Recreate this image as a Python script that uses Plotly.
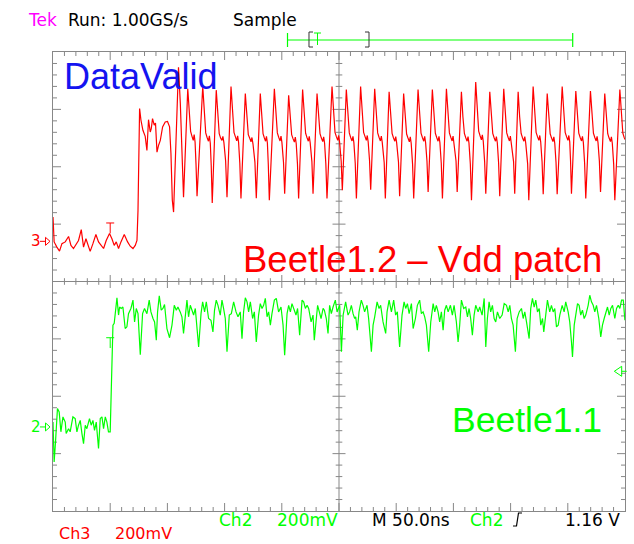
import plotly.graph_objects as go

# ---------------- acquisition settings ----------------
ns_per_div = 50          # M 50.0ns
mv_per_div = 200         # Ch2 / Ch3 200mV
n_hdiv, n_vdiv = 10, 8
ch3_position_div = 0.70  # ground marker "3"
ch2_position_div = -2.535  # ground marker "2"
trigger_time_ns = 50
trigger_level_mv = 194   # Ch2 trigger level above its ground marker

# ---------------- Ch3 (DataValid, Beetle1.2 - Vdd patch) ----------------
ch3_t_ns = [
    0.0, 1.0, 3.4, 5.7, 7.8, 10.7, 13.6, 15.7, 17.9, 20.3, 22.3, 24.7,
    26.7, 28.8, 30.5, 32.5, 34.9, 37.5, 39.8, 41.9, 44.2, 46.5, 49.4, 51.5,
    53.5, 55.3, 57.3, 59.4, 62.3, 65.2, 67.5, 69.9, 71.9, 73.4, 74.3, 75.7,
    76.9, 78.6, 80.6, 82.1, 83.5, 85.0, 85.9, 87.0, 88.5, 89.6,
    90.9, 92.3, 93.8, 95.8, 98.1, 100.1, 101.9, 103.1, 104.3, 105.4,
    107.8, 109.7, 111.3, 114.1,
    117.8, 119.1, 120.3, 121.5, 122.6, 123.4, 124.2, 125.0, 125.9,
    130.9, 132.2, 133.5, 134.7, 135.9, 136.7, 137.5, 138.3, 139.2,
    142.7, 144.0, 145.3, 146.5, 147.7, 148.5, 149.4, 150.9, 152.1,
    155.6, 156.9, 158.2, 159.4, 160.6, 161.4, 162.2, 163.3, 164.3,
    168.1, 169.4, 170.7, 171.9, 173.1, 173.9, 174.8, 176.5, 177.7,
    181.2, 182.4, 183.6, 184.7, 185.8, 186.6, 187.4, 188.2, 189.1,
    193.5, 194.8, 196.1, 197.3, 198.5, 199.3, 200.1, 201.5, 202.5,
    206.0, 207.3, 208.6, 209.8, 211.0, 211.8, 212.6, 213.7, 214.7,
    218.2, 219.5, 220.8, 222.0, 223.2, 224.0, 224.8, 226.3, 227.3,
    230.8, 232.1, 233.4, 234.6, 235.8, 236.6, 237.4, 238.5, 239.5,
    243.9, 245.2, 246.5, 247.7, 248.9, 249.7, 250.5, 251.9, 252.9,
    256.4, 257.7, 259.0, 260.2, 261.4, 262.2, 263.0, 264.2, 265.2,
    268.9, 270.2, 271.5, 272.7, 273.9, 274.7, 275.5, 276.7, 277.7,
    281.2, 282.5, 283.8, 285.0, 286.2, 287.0, 287.8, 289.5, 290.5,
    293.8, 295.1, 296.4, 297.6, 298.8, 299.6, 300.4, 302.0, 303.0,
    306.5, 307.8, 309.1, 310.3, 311.5, 312.3, 313.1, 314.3, 315.3,
    319.1, 320.4, 321.7, 322.9, 324.1, 324.9, 325.7, 326.9, 327.9,
    331.6, 332.9, 334.2, 335.4, 336.6, 337.4, 338.2, 339.4, 340.4,
    343.9, 345.2, 346.5, 347.7, 348.9, 349.7, 350.5, 352.3, 353.3,
    357.0, 358.3, 359.6, 360.8, 362.0, 362.8, 363.6, 364.8, 365.8,
    369.5, 370.8, 372.1, 373.3, 374.5, 375.3, 376.1, 377.3, 378.3,
    381.8, 383.1, 384.4, 385.6, 386.8, 387.6, 388.4, 389.5, 390.5,
    394.0, 395.3, 396.6, 397.8, 399.0, 399.8, 400.6, 402.6, 403.6,
    406.6, 407.9, 409.2, 410.4, 411.6, 412.4, 413.2, 414.9, 415.9,
    419.7, 421.0, 422.3, 423.5, 424.7, 425.5, 426.3, 427.5, 428.5,
    432.0, 433.3, 434.6, 435.8, 437.0, 437.8, 438.6, 439.7, 440.7,
    445.1, 446.4, 447.7, 448.9, 450.1, 450.9, 451.7, 452.4, 453.2,
    457.0, 458.3, 459.6, 460.8, 462.0, 462.8, 463.6, 464.7, 465.7,
    469.8, 471.1, 472.4, 473.6, 474.8, 475.6, 476.4, 477.6, 478.6,
    482.3, 483.6, 484.9, 486.1, 487.3, 488.1, 488.9, 490.1, 491.1,
    495.5, 496.8, 498.1, 499.3, 500.0,
]
ch3_mv = [
    85, -2, -20, -34, -8, -2, 17, -14, -25, -8, 3, 41,
    -20, 9, -14, -35, -8, 24, -2, -14, -25, 3, 27, 9,
    -14, -2, -25, -2, 24, -2, -17, -25, -14, 3, 108, 463,
    422, 387, 366, 317, 424, 381, 393, 428, 405, 412,
    311, 335, 352, 399, 416, 418, 399, 306, 143, 102,
    399, 607, 480, 154,
    532, 445, 383, 366, 352, 372, 346, 270, 157,
    540, 440, 378, 362, 349, 368, 342, 265, 134,
    527, 436, 375, 360, 352, 366, 344, 280, 154,
    540, 442, 380, 365, 350, 368, 346, 272, 149,
    515, 430, 372, 360, 347, 362, 340, 276, 150,
    515, 432, 375, 361, 349, 366, 343, 268, 143,
    532, 440, 378, 363, 350, 367, 345, 275, 166,
    509, 428, 372, 358, 346, 363, 341, 270, 149,
    529, 438, 377, 362, 349, 366, 344, 278, 166,
    515, 432, 375, 360, 348, 364, 342, 270, 149,
    540, 442, 380, 365, 352, 369, 347, 280, 178,
    529, 438, 378, 362, 350, 366, 344, 272, 149,
    540, 442, 380, 366, 352, 369, 347, 282, 180,
    532, 440, 378, 363, 350, 367, 345, 275, 149,
    521, 434, 376, 361, 349, 365, 343, 276, 157,
    515, 432, 374, 360, 347, 364, 342, 270, 149,
    529, 438, 377, 362, 349, 366, 344, 280, 172,
    529, 438, 377, 362, 349, 366, 344, 272, 149,
    532, 440, 378, 363, 350, 367, 345, 280, 172,
    521, 434, 376, 361, 349, 365, 343, 270, 143,
    555, 448, 384, 368, 354, 371, 349, 278, 166,
    521, 434, 376, 361, 349, 365, 343, 274, 157,
    532, 440, 378, 363, 350, 367, 345, 278, 166,
    521, 434, 376, 361, 349, 365, 343, 270, 143,
    540, 442, 380, 365, 352, 369, 347, 278, 164,
    515, 432, 375, 360, 348, 364, 342, 276, 164,
    540, 442, 380, 365, 352, 369, 347, 280, 166,
    524, 436, 377, 362, 350, 366, 344, 272, 149,
    524, 436, 377, 362, 350, 366, 344, 280, 172,
    515, 432, 375, 360, 348, 364, 342, 270, 143,
    529, 438, 377, 362, 355,
]

# ---------------- Ch2 (Beetle1.1) ----------------
ch2_t_ns = [
    0.0, 1.0, 2.2, 3.9, 5.4, 6.9, 8.7, 10.7, 11.5, 13.6,
    15.0, 17.4, 19.4, 20.9, 22.3, 23.8, 25.3, 26.7, 28.2, 29.6,
    31.9, 33.4, 34.9, 36.3, 37.8, 39.8, 41.3, 42.8, 44.2, 45.7,
    47.1, 48.5, 50.0, 50.9, 51.8, 52.4, 53.5, 54.4, 55.9, 57.3,
    58.2, 59.6, 61.1, 63.1, 64.6, 66.0, 68.1, 69.9, 71.3, 72.8,
    74.3, 76.3, 78.3, 80.0, 82.1, 84.1, 85.6, 87.4, 88.8, 90.3,
    91.4, 92.9, 94.6, 96.1, 97.5, 99.6, 101.9, 104.0, 106.0, 107.8,
    109.2, 111.2, 112.7, 114.1, 115.6, 117.1, 118.5, 120.0, 121.5, 122.9,
    124.4, 125.9, 127.3, 129.4, 130.8, 132.5, 134.0, 136.0, 138.1, 139.8,
    141.2, 142.7, 144.2, 146.2, 147.7, 149.1, 150.6, 152.1, 154.1, 155.9,
    157.9, 160.0, 161.7, 163.7, 165.2, 166.6, 168.1, 169.6, 171.0, 172.5,
    174.5, 176.0, 177.7, 179.7, 181.2, 182.7, 184.1, 185.6, 187.1, 188.5,
    190.0, 191.4, 193.5, 195.2, 197.2, 199.3, 201.1, 202.5, 204.6, 206.0,
    207.5, 208.9, 211.0, 212.4, 213.8, 215.6, 217.7, 219.1, 220.6, 222.1,
    223.5, 225.6, 227.3, 228.4, 229.9, 231.3, 232.8, 234.3, 236.1, 237.2,
    238.9, 240.4, 241.8, 243.3, 244.8, 246.8, 248.3, 249.7, 250.6, 252.1,
    253.6, 255.8, 257.9, 259.3, 260.8, 262.3, 263.7, 264.6, 266.0, 267.5,
    269.5, 271.0, 272.4, 274.5, 275.9, 278.3, 279.8, 281.2, 283.3, 285.0,
    286.4, 288.5, 290.8, 292.0, 293.8, 295.8, 297.8, 299.5, 301.0, 303.0,
    305.1, 306.9, 308.3, 309.8, 311.3, 313.3, 314.8, 316.8, 318.5, 320.5,
    322.0, 323.5, 324.9, 326.4, 328.4, 330.2, 332.3, 333.7, 335.1, 336.6,
    338.0, 339.5, 341.0, 342.4, 343.9, 345.4, 347.4, 349.1, 350.6, 352.6,
    354.1, 355.5, 357.0, 359.0, 360.8, 362.3, 363.7, 365.1, 366.6, 368.1,
    369.5, 371.6, 373.0, 375.1, 376.9, 378.3, 379.7, 381.2, 382.6, 384.1,
    385.6, 387.0, 388.5, 390.5, 392.6, 394.4, 396.4, 397.9, 399.3, 400.7,
    402.2, 404.2, 405.7, 407.5, 409.5, 411.0, 412.4, 413.9, 416.2, 417.6,
    419.1, 420.6, 422.0, 423.5, 425.0, 426.4, 427.9, 429.0, 430.7, 432.2,
    434.2, 435.7, 437.2, 438.6, 440.1, 441.6, 443.0, 445.1, 446.8, 448.2,
    450.3, 451.7, 453.2, 454.1, 455.6, 457.0, 458.5, 459.9, 461.3, 462.8,
    464.3, 465.7, 467.8, 469.2, 470.7, 472.2, 473.6, 475.1, 477.1, 478.8,
    480.3, 481.8, 483.2, 484.7, 486.2, 487.6, 489.1, 491.1, 492.6, 494.1,
    495.5, 497.0, 498.5, 499.9,
]
ch2_mv = [
    17, -122, -52, 64, 52, -17, 35, 17, -23, -6,
    -17, 35, 29, -17, 6, 23, -23, -58, 6, -6,
    29, 6, 23, -12, 17, -75, 29, 35, -6, 35,
    17, -17, -17, 111, 320, 355, 361, 395, 450, 390,
    418, 413, 418, 343, 349, 395, 413, 442, 366, 413,
    395, 252, 395, 413, 395, 442, 401, 378, 366, 302,
    401, 457, 407, 413, 427, 343, 311, 355, 424, 407,
    418, 401, 384, 326, 378, 442, 384, 424, 407, 390,
    413, 355, 279, 395, 436, 401, 436, 378, 372, 331,
    407, 442, 424, 390, 442, 413, 378, 262, 390, 395,
    436, 401, 384, 401, 308, 401, 450, 436, 401, 436,
    378, 401, 296, 390, 430, 413, 424, 448, 384, 401,
    355, 395, 442, 448, 401, 418, 355, 250, 395, 424,
    401, 430, 401, 390, 413, 320, 442, 436, 413, 424,
    413, 366, 390, 302, 366, 424, 401, 378, 413, 407,
    378, 326, 424, 395, 418, 442, 401, 413, 424, 262,
    390, 436, 390, 401, 424, 395, 378, 384, 337, 401,
    442, 424, 401, 424, 378, 262, 355, 384, 436, 413,
    424, 366, 326, 401, 442, 401, 442, 390, 401, 279,
    390, 436, 413, 430, 395, 430, 343, 378, 424, 442,
    395, 401, 384, 355, 262, 366, 430, 401, 424, 401,
    366, 401, 337, 407, 424, 401, 424, 390, 424, 366,
    296, 355, 442, 413, 418, 384, 413, 378, 320, 390,
    424, 401, 418, 390, 448, 279, 378, 436, 401, 424,
    378, 366, 401, 378, 390, 430, 424, 401, 424, 378,
    355, 262, 378, 401, 413, 378, 401, 366, 308, 413,
    448, 418, 442, 401, 413, 355, 378, 331, 401, 442,
    401, 424, 401, 413, 349, 355, 390, 424, 401, 436,
    401, 366, 296, 244, 355, 401, 430, 424, 390, 407,
    378, 390, 424, 459, 436, 424, 401, 424, 378, 314,
    355, 378, 401, 418, 390, 413, 424, 378, 413, 424,
    413, 442, 442, 372,
]

# ---------------- colours / fonts ----------------
RED, GREEN, BLUE, MAGENTA = "#ff0000", "#00ff00", "#1414f0", "#ff00ff"
GRID = "#878787"
SCOPE_FONT = "DejaVu Sans"
LABEL_FONT = "Liberation Sans"

W, H = 634, 544
ML, MR, MT, MB = 53, 9, 52, 33
PW, PH = W - ML - MR, H - MT - MB
t_span = n_hdiv * ns_per_div


def paper_x(px):
    return (px - ML) / PW


def paper_y(py):
    return (H - MB - py) / PH


def div_to_py(d):
    return MT + PH * (n_vdiv / 2 - d) / n_vdiv


def path(points):
    return "M" + " L".join(f"{paper_x(x):.5f},{paper_y(y):.5f}" for x, y in points)


fig = go.Figure()

# ---- graticule: centre cross and tick marks ----
gx, gy = [], []


def seg(x0, y0, x1, y1):
    gx.extend([x0, x1, None])
    gy.extend([y0, y1, None])


px_per_ns = PW / t_span
px_per_div = PH / n_vdiv
minor_ns = ns_per_div / 5
half = n_vdiv / 2
seg(t_span / 2, -half, t_span / 2, half)
seg(0, 0, t_span, 0)
for i in range(1, n_hdiv * 5):
    t = i * minor_ns
    major = i % 5 == 0
    c = (6.5 if major else 3.3) / px_per_div
    e = (8 if major else 4) / px_per_div
    seg(t, -c, t, c)
    seg(t, half, t, half - e)
    seg(t, -half, t, -half + e)
for j in range(-n_vdiv * 5 // 2 + 1, n_vdiv * 5 // 2):
    d = j * 0.2
    major = j % 5 == 0
    c = (6.5 if major else 3.3) / px_per_ns
    e = (8 if major else 4) / px_per_ns
    seg(t_span / 2 - c, d, t_span / 2 + c, d)
    seg(0, d, e, d)
    seg(t_span, d, t_span - e, d)

fig.add_trace(go.Scatter(x=gx, y=gy, mode="lines", line=dict(color=GRID, width=1),
                         hoverinfo="skip", showlegend=False))

# ---- waveforms ----
fig.add_trace(go.Scatter(x=ch3_t_ns, y=[ch3_position_div + v / mv_per_div for v in ch3_mv],
                         mode="lines", line=dict(color=RED, width=1.2), name="Ch3"))
fig.add_trace(go.Scatter(x=ch2_t_ns, y=[ch2_position_div + v / mv_per_div for v in ch2_mv],
                         mode="lines", line=dict(color=GREEN, width=1.2), name="Ch2"))

shapes = []
# trigger-point "T" marks on each waveform
for col, top, bot in [(RED, 1.02, 0.84), (GREEN, -0.98, -1.16)]:
    w = 4 / px_per_ns
    shapes.append(dict(type="line", xref="x", yref="y", x0=trigger_time_ns - w, x1=trigger_time_ns + w,
                       y0=top, y1=top, line=dict(color=col, width=1)))
    shapes.append(dict(type="line", xref="x", yref="y", x0=trigger_time_ns, x1=trigger_time_ns,
                       y0=top, y1=bot, line=dict(color=col, width=1)))

# ground markers "3 ->" and "2 ->"
annotations = []
for label, col, pos in [("3", RED, ch3_position_div), ("2", GREEN, ch2_position_div)]:
    g = div_to_py(pos)
    shapes.append(dict(type="path", xref="paper", yref="paper",
                       path=path([(40, g), (45.5, g)]), line=dict(color=col, width=1)))
    shapes.append(dict(type="path", xref="paper", yref="paper",
                       path=path([(45.5, g - 4), (50, g), (45.5, g + 4)]) + " Z",
                       line=dict(color=col, width=1)))
    annotations.append(dict(text=label, x=paper_x(29.5), y=paper_y(g), xref="paper", yref="paper",
                            xanchor="left", yanchor="middle", showarrow=False, borderpad=0,
                            font=dict(family=SCOPE_FONT, size=15, color=col)))

# trigger level marker on the right edge
tl = div_to_py(ch2_position_div + trigger_level_mv / mv_per_div)
shapes.append(dict(type="path", xref="paper", yref="paper",
                   path=path([(621.7, tl - 5), (614.3, tl), (621.7, tl + 5)]) + " Z",
                   line=dict(color=GREEN, width=1)))
shapes.append(dict(type="path", xref="paper", yref="paper",
                   path=path([(621.7, tl), (626.7, tl)]), line=dict(color=GREEN, width=1)))

# record / display position bar
shapes.append(dict(type="path", xref="paper", yref="paper",
                   path=path([(287.5, 40), (572.7, 40)]), line=dict(color=GREEN, width=1.2)))
for xe in (287.5, 572.7):
    shapes.append(dict(type="path", xref="paper", yref="paper",
                       path=path([(xe, 33), (xe, 47)]), line=dict(color=GREEN, width=1.2)))
shapes.append(dict(type="path", xref="paper", yref="paper",
                   path=path([(313, 32), (309, 32), (309, 47), (313, 47)]), line=dict(color="#333333", width=1)))
shapes.append(dict(type="path", xref="paper", yref="paper",
                   path=path([(365, 32), (369, 32), (369, 47), (365, 47)]), line=dict(color="#333333", width=1)))
shapes.append(dict(type="path", xref="paper", yref="paper",
                   path=path([(314, 33), (321, 33)]), line=dict(color=GREEN, width=1)))
shapes.append(dict(type="path", xref="paper", yref="paper",
                   path=path([(317.5, 33), (317.5, 45)]), line=dict(color=GREEN, width=1)))

# rising-edge trigger symbol
shapes.append(dict(type="path", xref="paper", yref="paper",
                   path=path([(513, 526), (516.5, 526), (518.5, 513), (522, 513)]),
                   line=dict(color="black", width=1.2)))


def text(s, x, y, color, size=17, family=SCOPE_FONT, anchor="left"):
    annotations.append(dict(text=s, x=paper_x(x), y=paper_y(y), xref="paper", yref="paper",
                            xanchor=anchor, yanchor="middle", showarrow=False, borderpad=0,
                            font=dict(family=family, size=size, color=color)))


# status line
text("Tek", 26.5, 20, MAGENTA)
text("Run: 1.00GS/s", 66.7, 20, "black")
text("Sample", 231.7, 20, "black")
# bottom readouts
text("Ch2", 218, 519.5, GREEN)
text("200mV", 276, 519.5, GREEN)
text("M 50.0ns", 370.5, 519.5, "black")
text("Ch2", 469, 519.5, GREEN)
text("1.16 V", 621, 519.5, "black", anchor="right")
text("Ch3", 57.8, 533.5, RED, size=16)
text("200mV", 114, 533.5, RED, size=16)
# signal labels
text("DataValid", 63, 76, BLUE, size=36, family=LABEL_FONT)
text("Beetle1.2 \u2013 Vdd patch", 242, 259.7, RED, size=36.5, family=LABEL_FONT)
text("Beetle1.1", 451, 420, GREEN, size=35.5, family=LABEL_FONT)

axis_common = dict(showgrid=False, zeroline=False, showticklabels=False, ticks="",
                   showline=True, mirror=True, linecolor=GRID, linewidth=1, fixedrange=True)
fig.update_layout(
    width=W, height=H,
    margin=dict(l=ML, r=MR, t=MT, b=MB, pad=0),
    paper_bgcolor="white", plot_bgcolor="white",
    showlegend=False,
    xaxis=dict(range=[0, t_span], **axis_common),
    yaxis=dict(range=[-half, half], **axis_common),
    shapes=shapes,
    annotations=annotations,
)

fig.write_html("out.html")
